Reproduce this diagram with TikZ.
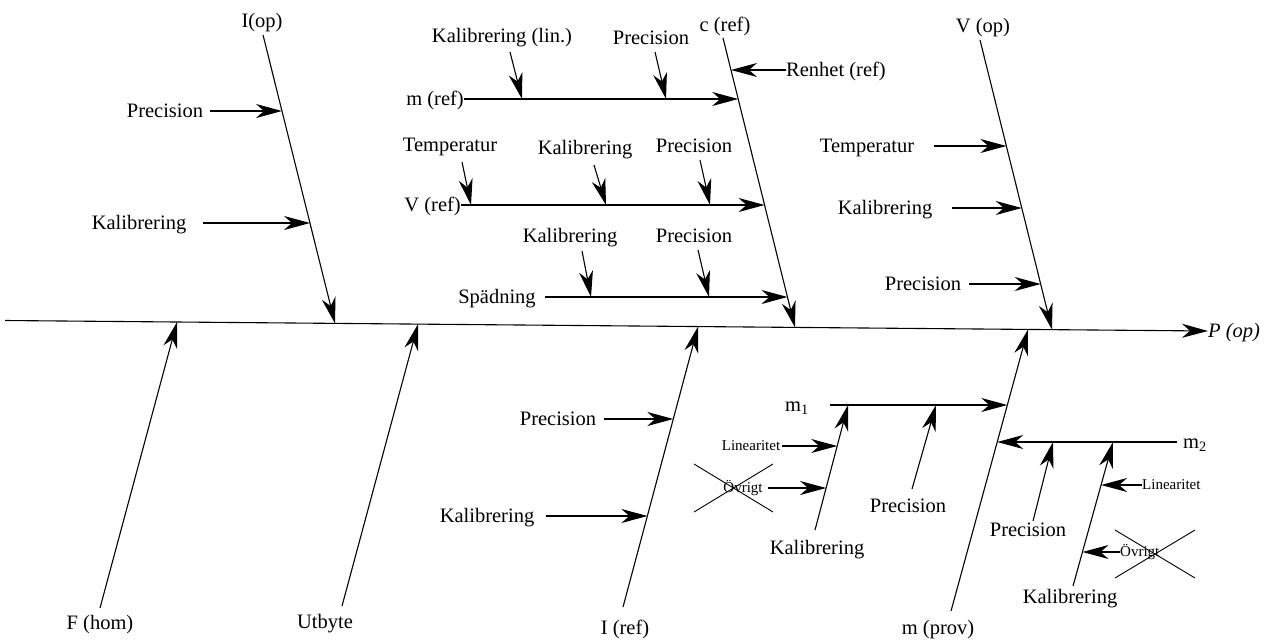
\documentclass[tikz,border=0pt]{standalone}
\usepackage{fontspec}
\setmainfont{Liberation Serif}
\usetikzlibrary{arrows.meta,calc}
\newcommand\lblfont{\fontsize{20.5}{24}\selectfont}
\newcommand\smlfont{\fontsize{15}{18}\selectfont}
\begin{document}
\begin{tikzpicture}[x=1pt,y=-1pt,
  lbl/.style={inner sep=0pt,text height=13.5pt,text depth=0pt,font=\lblfont},
  sml/.style={inner sep=0pt,text height=9.9pt,text depth=0pt,font=\smlfont},
  arr/.style={line width=1.1pt,-{Stealth[length=26pt,width=14pt,inset=8pt]}},
  cross/.style={line width=0.9pt}]
\useasboundingbox (0,0) rectangle (1267,641);

% main spine
\coordinate (sL) at (5,320.5);
\node[lbl,anchor=west,font=\lblfont\itshape] (pop) at (1208,331) {P (op)};
\draw[arr] (sL) -- (pop.west);

% junctions on the spine
\coordinate (jF) at (177,322);
\coordinate (jI) at (335,323.4);
\coordinate (jU) at (418,324.1);
\coordinate (jR) at (698,326.6);
\coordinate (jC) at (795,327.4);
\coordinate (jM) at (1028,329.4);
\coordinate (jV) at (1052,329.6);

% ---------- I(op)
\node[lbl] (iop) at (262,21) {I(op)};
\draw[arr] ($(iop.south)+(1,7)$) -- (jI);
\node[lbl] (precA) at (165,111) {Precision};
\coordinate (tIa) at (282,111);
\draw[arr] ([xshift=7pt]precA.east) -- (tIa);
\node[lbl] (kalA) at (139,223) {Kalibrering};
\coordinate (tIb) at (310,223);
\draw[arr] ([xshift=17pt]kalA.east) -- (tIb);

% ---------- c (ref)
\node[lbl] (cref) at (725,25) {c (ref)};
\coordinate (jC1) at (731,70);
\coordinate (jC2) at (738.2,99);
\coordinate (jC3) at (764.6,205);
\coordinate (jC4) at (787.5,297);
\draw[arr] ($(cref.south)+(-2,6)$) -- (jC);
\node[lbl,anchor=west] (renhet) at (786,70) {Renhet (ref)};
\draw[arr] (renhet.west) -- (jC1);

% m (ref)
\node[lbl,anchor=east] (mref) at (464,99) {m (ref)};
\draw[arr] (mref.east) -- (jC2);
\coordinate (tM1) at (522,99);
\coordinate (tM2) at (666,99);
\node[lbl] (kallin) at (502,36) {Kalibrering (lin.)};
\draw[arr] ($(kallin.south)+(8,9)$) -- (tM1);
\node[lbl] (precB) at (651,38) {Precision};
\draw[arr] ($(precB.south)+(4,7)$) -- (tM2);

% V (ref)
\node[lbl,anchor=east] (vref) at (461,205) {V (ref)};
\draw[arr] (vref.east) -- (jC3);
\coordinate (tV1) at (471,205);
\coordinate (tV2) at (606,205);
\coordinate (tV3) at (710,205);
\node[lbl] (tempB) at (450,145) {Temperatur};
\draw[arr] ($(tempB.south)+(12,10)$) -- (tV1);
\node[lbl] (kalB) at (585,148) {Kalibrering};
\draw[arr] ($(kalB.south)+(9,10)$) -- (tV2);
\node[lbl] (precC) at (694,146) {Precision};
\draw[arr] ($(precC.south)+(6,7)$) -- (tV3);

% Spädning
\node[lbl] (spad) at (497,297) {Spädning};
\draw[arr] ([xshift=9pt]spad.east) -- (jC4);
\coordinate (tS1) at (591,297);
\coordinate (tS2) at (709,297);
\node[lbl] (kalC) at (570,236) {Kalibrering};
\draw[arr] ($(kalC.south)+(12,8)$) -- (tS1);
\node[lbl] (precD) at (694,236) {Precision};
\draw[arr] ($(precD.south)+(4,7)$) -- (tS2);

% ---------- V (op)
\node[lbl] (vop) at (983,26) {V (op)};
\draw[arr] ($(vop.south)+(-3,7)$) -- (jV);
\coordinate (tVo1) at (1006.4,146);
\coordinate (tVo2) at (1021.8,208);
\coordinate (tVo3) at (1040.7,284);
\node[lbl] (tempV) at (867,146) {Temperatur};
\draw[arr] ([xshift=20pt]tempV.east) -- (tVo1);
\node[lbl] (kalV) at (885,208) {Kalibrering};
\draw[arr] ([xshift=20pt]kalV.east) -- (tVo2);
\node[lbl] (precV) at (923,284) {Precision};
\draw[arr] ([xshift=8pt]precV.east) -- (tVo3);

% ---------- F (hom)
\node[lbl] (fhom) at (100,623) {F (hom)};
\draw[arr] ($(fhom.north)+(0,-8)$) -- (jF);

% ---------- Utbyte
\node[lbl] (utb) at (325,622) {Utbyte};
\draw[arr] ($(utb.north)+(17,-9)$) -- (jU);

% ---------- I (ref)
\node[lbl] (iref) at (625,628) {I (ref)};
\draw[arr] ($(iref.north)+(-2,-14)$) -- (jR);
\coordinate (tR1) at (673.3,419);
\coordinate (tR2) at (647.4,516);
\node[lbl] (precR) at (558,419) {Precision};
\draw[arr] ([xshift=8pt]precR.east) -- (tR1);
\node[lbl] (kalR) at (487,516) {Kalibrering};
\draw[arr] ([xshift=12pt]kalR.east) -- (tR2);

% ---------- m (prov)
\node[lbl] (mprov) at (938,628) {m (prov)};
\draw[arr] ($(mprov.north)+(13,-10)$) -- (jM);
\coordinate (jP1) at (1007.3,405);
\coordinate (jP2) at (997.2,442);

% m1
\node[lbl] (mone) at (797,405) {m\textsubscript{1}};
\draw[arr] ([xshift=21pt]mone.east) -- (jP1);
\coordinate (k1) at (848,405);
\coordinate (p1) at (936,405);
\node[lbl] (kalM1) at (817,548) {Kalibrering};
\draw[arr] ($(kalM1.north)+(-2,-11)$) -- (k1);
\coordinate (tK1) at (837.2,446);
\coordinate (tK2) at (826.1,488);
\node[sml] (linM1) at (751,446) {Linearitet};
\draw[arr] ([xshift=2pt]linM1.east) -- (tK1);
\node[sml] (ovrM1) at (743,488) {Övrigt};
\draw[arr] ([xshift=5pt]ovrM1.east) -- (tK2);
\draw[cross] (694,464) -- (773,512);
\draw[cross] (694,512) -- (773,464);
\node[lbl] (precM1) at (908,506) {Precision};
\draw[arr] ($(precM1.north)+(4,-10)$) -- (p1);

% m2
\node[lbl,anchor=west] (mtwo) at (1183,442) {m\textsubscript{2}};
\draw[arr] ([xshift=-6pt]mtwo.west) -- (jP2);
\coordinate (q1) at (1053,442);
\coordinate (q2) at (1113,442);
\node[lbl] (precM2) at (1028,530) {Precision};
\draw[arr] ($(precM2.north)+(5,-2)$) -- (q1);
\node[lbl] (kalM2) at (1070,597) {Kalibrering};
\draw[arr] ($(kalM2.north)+(3,-4)$) -- (q2);
\coordinate (tQ1) at (1101.1,485);
\coordinate (tQ2) at (1082.5,552);
\node[sml,anchor=west] (linM2) at (1142,485) {Linearitet};
\draw[arr] (linM2.west) -- (tQ1);
\node[sml,anchor=west] (ovrM2) at (1120,552) {Övrigt};
\draw[arr] (ovrM2.west) -- (tQ2);
\draw[cross] (1115,530) -- (1195,578);
\draw[cross] (1115,578) -- (1195,530);
\end{tikzpicture}
\end{document}
